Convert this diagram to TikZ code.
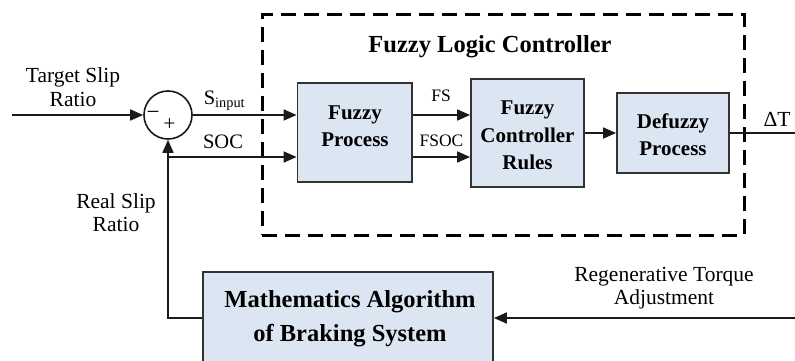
\documentclass[tikz,border=0pt]{standalone}
\usepackage{fontspec}
\setmainfont{Liberation Serif}
\usetikzlibrary{arrows.meta}
\definecolor{boxfill}{HTML}{DCE6F2}
\definecolor{boxdraw}{HTML}{333333}
\definecolor{linecol}{HTML}{1A1A1A}
\begin{document}
\begin{tikzpicture}[x=1pt,y=-1pt,
  conn/.style={line width=1.6pt, draw=linecol},
  arr/.style={conn, -{Triangle[length=13pt,width=11pt]}},
  blk/.style={draw=boxdraw, line width=1.8pt, fill=boxfill, inner sep=0pt},
  blktext/.style={font=\fontsize{21}{27.5}\selectfont\bfseries, align=center, inner sep=0pt},
  bigtext/.style={font=\fontsize{24.5}{34}\selectfont\bfseries, align=center, inner sep=0pt},
  lbl/.style={font=\fontsize{21.5}{23.5}\selectfont, align=center, inner sep=0pt},
  small/.style={font=\fontsize{20.5}{22}\selectfont, inner sep=0pt},
  tiny/.style={font=\fontsize{17.5}{21}\selectfont, inner sep=0pt}]
\useasboundingbox (0,0) rectangle (795,361);

% dashed controller frame
\node[draw=black, line width=3pt, dash pattern=on 15pt off 8pt,
      minimum width=482pt, minimum height=220pt, inner sep=0pt] (flc) at (503,125) {};
\node[font=\fontsize{24.5}{28}\selectfont\bfseries, inner sep=0pt] (title) at (490,47) {Fuzzy Logic Controller};

% blocks
\node[blk, minimum width=114.5pt, minimum height=99pt] (fp) at (354.75,132.5) {};
\node[blktext] (fpt) at (355,126) {Fuzzy\\Process};
\node[blk, minimum width=113pt, minimum height=108pt] (fcr) at (527.5,133) {};
\node[blktext] (fcrt) at (527.5,135.5) {Fuzzy\\Controller\\Rules};
\node[blk, minimum width=112pt, minimum height=80pt] (dp) at (673,133) {};
\node[blktext] (dpt) at (673,134.5) {Defuzzy\\Process};
\node[blk, minimum width=290pt, minimum height=102pt] (math) at (348,323) {};
\node[bigtext] (matht) at (350,319) {Mathematics Algorithm\\of Braking System};

% summing junction
\node[draw=linecol, line width=1.6pt, circle, minimum size=48pt, inner sep=0pt] (sum) at (168,115) {};
\node[font=\fontsize{23}{24}\selectfont, inner sep=0pt] (minus) at (153,115.5) {−};
\node[font=\fontsize{21}{24}\selectfont, inner sep=0pt] (plus) at (169.5,125) {+};

% labels
\node[lbl] (target) at (73,87) {Target Slip\\Ratio};
\node[lbl] (real) at (116,212.5) {Real Slip\\Ratio};
\node[lbl] (regen) at (664,288) {Regenerative Torque\\Adjustment};
\node[small] (sin) at (224.5,101) {S\textsubscript{input}};
\node[small] (soc) at (223,142) {SOC};
\node[tiny] (fs) at (441,96) {FS};
\node[tiny] (fsoc) at (441.5,141) {FSOC};
\node[font=\fontsize{21.5}{24}\selectfont, inner sep=0pt] (dt) at (777,119.5) {ΔT};

% connectors
\coordinate (in) at (12,115);
\coordinate (socb) at (168,157);
\coordinate (out) at (795,133);
\coordinate (regin) at (795,318);
\draw[arr] (in) -- (sum.west);
\draw[arr] (sum.east) -- (fp.west |- sum.east);
\draw[arr] (socb) -- (fp.west |- socb);
\draw[arr] (fp.east |- 0,115) -- (fcr.west |- 0,115);
\draw[arr] (fp.east |- 0,157) -- (fcr.west |- 0,157);
\draw[arr] (fcr.east |- dp.west) -- (dp.west);
\draw[conn] (dp.east) -- (out);
\draw[arr] (regin) -- (math.east |- regin);
\draw[arr] (math.west |- regin) -| (sum.south);
\end{tikzpicture}
\end{document}
